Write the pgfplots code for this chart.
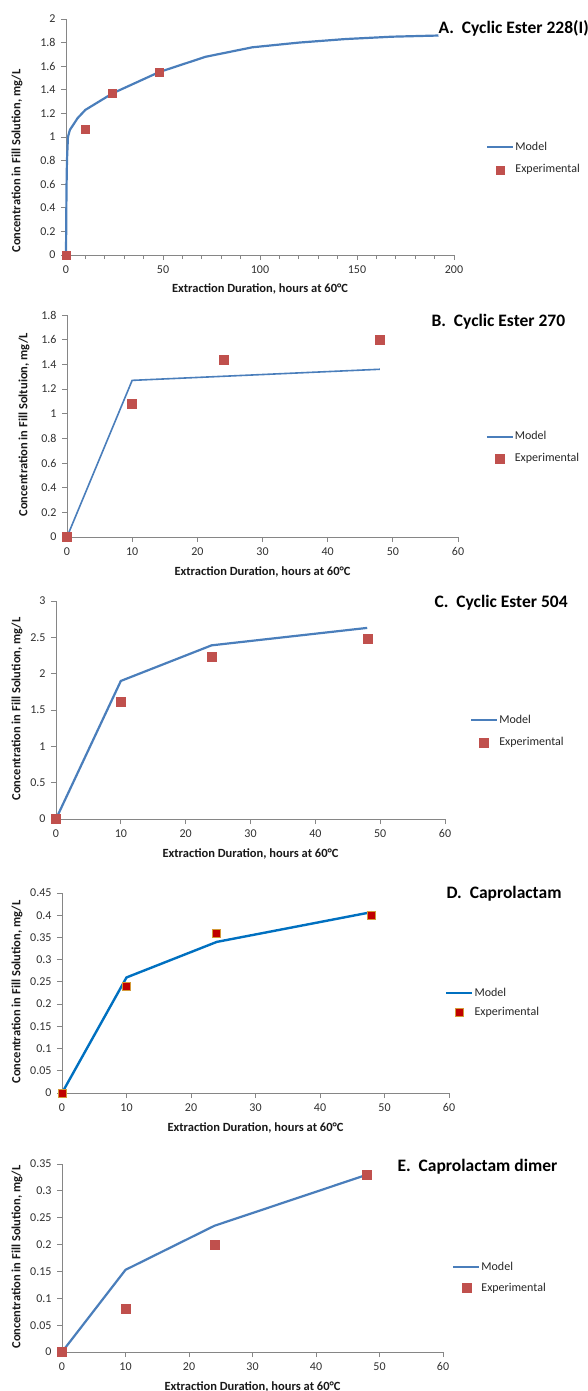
\documentclass[border=0pt]{standalone}
\usepackage{fontspec}
\setmainfont{Carlito}
\usepackage{pgfplots}
\pgfplotsset{compat=1.18}
\definecolor{modelblue}{HTML}{4A7EBB}
\definecolor{darkblue}{HTML}{0070C0}
\definecolor{expred}{HTML}{C0504D}
\definecolor{deepred}{HTML}{C00000}
\definecolor{edgeorange}{HTML}{D49A3A}
\definecolor{axgray}{HTML}{868686}
\definecolor{ticktext}{HTML}{303030}
\pgfplotsset{
  panel/.style={
    scale only axis, anchor=south west,
    axis x line*=bottom, axis y line*=left,
    axis line style={axgray, line width=0.9pt},
    every tick/.style={axgray, line width=0.9pt},
    tick align=outside,
    major tick length=5pt, minor tick length=4pt,
    xmin=0, ymin=0,
    tick label style={font=\fontsize{12}{13}\selectfont, text=ticktext},
    xticklabel style={yshift=-2pt},
    yticklabel style={xshift=-2pt, /pgf/number format/fixed, /pgf/number format/precision=2},
    /pgf/number format/assume math mode=true,
    scaled y ticks=false, scaled x ticks=false,
    label style={font=\bfseries\fontsize{12.5}{14}\selectfont, text=black!90},
    xlabel={Extraction Duration, hours at 60°C},
    ylabel={Concentration in Fill Solution, mg/L},
    xlabel style={at={(axis description cs:0.5,0)}, yshift=-35pt, anchor=center},
    legend style={draw=none, fill=none, inner sep=0pt, anchor=west,
      font=\fontsize{12}{14}\selectfont, text=black!85,
      cells={anchor=west}, nodes={inner xsep=1pt, inner ysep=0pt, text height=8.5pt, text depth=2.5pt}},
    legend image code/.code={\draw[mark repeat=2,mark phase=2,#1] plot coordinates {(0pt,0pt) (13pt,0pt) (26pt,0pt)};},
    clip=false,
  },
  model/.style={modelblue, line width=2.2pt, no marks},
  exper/.style={only marks, mark=square*, mark size=4pt, mark options={fill=expred, draw=expred}},
}
\newcommand{\ttl}{\bfseries\fontsize{17.5}{19}\selectfont}
\begin{document}
\begin{tikzpicture}
\useasboundingbox (0pt,0pt) rectangle (588pt,-1391pt);

% ---------------- A
\begin{axis}[panel, at={(66pt,-255pt)}, width=388pt, height=236pt,
  xmax=200, ymax=2, xtick={0,50,100,150,200}, minor x tick num=4,
  ytick={0,0.2,0.4,0.6,0.8,1,1.2,1.4,1.6,1.8,2},
  ylabel style={at={(axis description cs:-0.126,0.398)}, anchor=center},
  xlabel style={yshift=1pt},
  legend style={at={(axis description cs:1.0825,0.409)}, row sep=11.5pt}]
\addplot[model] coordinates {(0,0) (0.25,0.55) (0.5,0.8) (1,1.0) (2,1.06) (4,1.11) (6,1.16) (10,1.23) (24,1.37) (48,1.55) (72,1.68) (96,1.76) (120,1.80) (144,1.83) (168,1.85) (192,1.86)};
\addlegendentry{Model}
\addplot[exper] coordinates {(0,0) (10,1.07) (24,1.37) (48,1.55)};
\addlegendentry{Experimental}
\end{axis}
\node[anchor=west, font=\ttl] at (435pt,-28pt) {A.\ \ Cyclic Ester 228(I)};

% ---------------- B
\begin{axis}[panel, at={(67pt,-537pt)}, width=391pt, height=222pt,
  xmax=60, ymax=1.8, xtick={0,10,20,30,40,50,60},
  ytick={0,0.2,0.4,0.6,0.8,1,1.2,1.4,1.6,1.8},
  ylabel={Concentration in Fill Soltuion, mg/L},
  ylabel style={at={(axis description cs:-0.11,0.505)}, anchor=center},
  legend style={at={(axis description cs:1.0716,0.401)}, row sep=11pt}]
\addplot[model, line width=1.6pt] coordinates {(0,0) (10,1.27) (48,1.36)};
\addlegendentry{Model}
\addplot[exper, mark size=4.5pt] coordinates {(0,0) (10,1.08) (24,1.44) (48,1.60)};
\addlegendentry{Experimental}
\end{axis}
\node[anchor=west, font=\ttl] at (428pt,-322pt) {B.\ \ Cyclic Ester 270};

% ---------------- C
\begin{axis}[panel, at={(56pt,-819pt)}, width=389pt, height=218pt,
  xmax=60, ymax=3, xtick={0,10,20,30,40,50,60},
  ytick={0,0.5,1,1.5,2,2.5,3},
  ylabel style={at={(axis description cs:-0.100,0.505)}, anchor=center},
  legend style={at={(axis description cs:1.064,0.401)}, row sep=11.5pt}]
\addplot[model] coordinates {(0,0) (10,1.90) (24,2.39) (48,2.63)};
\addlegendentry{Model}
\addplot[exper, mark size=4.5pt] coordinates {(0,0) (10,1.62) (24,2.24) (48,2.48)};
\addlegendentry{Experimental}
\end{axis}
\node[anchor=west, font=\ttl] at (431pt,-603pt) {C.\ \ Cyclic Ester 504};

% ---------------- D
\begin{axis}[panel, at={(62pt,-1093pt)}, width=387pt, height=200pt,
  xmax=60, ymax=0.45, xtick={0,10,20,30,40,50,60},
  ytick={0,0.05,0.1,0.15,0.2,0.25,0.3,0.35,0.4,0.45},
  ylabel style={at={(axis description cs:-0.116,0.505)}, anchor=center},
  legend style={at={(axis description cs:0.9897,0.4525)}, row sep=8pt}]
\addplot[model, darkblue, line width=2.4pt] coordinates {(0,0) (10,0.26) (24,0.34) (48,0.407)};
\addlegendentry{Model}
\addplot[exper, mark size=4pt, mark options={fill=deepred, draw=edgeorange, line width=0.8pt}] coordinates {(0,0) (10,0.24) (24,0.36) (48,0.40)};
\addlegendentry{Experimental}
\end{axis}
\node[anchor=west, font=\ttl] at (443pt,-894pt) {D.\ \ Caprolactam};

% ---------------- E
\begin{axis}[panel, at={(62pt,-1352pt)}, width=381pt, height=188pt,
  xmax=60, ymax=0.35, xtick={0,10,20,30,40,50,60},
  ytick={0,0.05,0.1,0.15,0.2,0.25,0.3,0.35},
  ylabel style={at={(axis description cs:-0.118,0.505)}, anchor=center},
  legend style={at={(axis description cs:1.0236,0.396)}, row sep=10pt}]
\addplot[model] coordinates {(0,0) (10,0.153) (24,0.235) (48,0.33)};
\addlegendentry{Model}
\addplot[exper, mark size=4.5pt] coordinates {(0,0) (10,0.08) (24,0.20) (48,0.33)};
\addlegendentry{Experimental}
\end{axis}
\node[anchor=west, font=\ttl] at (394pt,-1167pt) {E.\ \ Caprolactam dimer};
\end{tikzpicture}
\end{document}
